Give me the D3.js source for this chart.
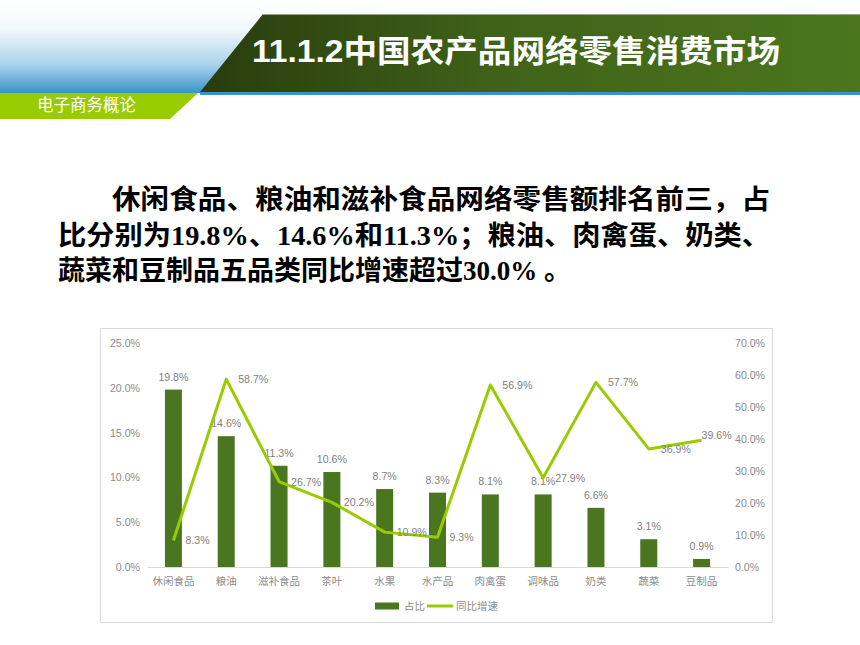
<!DOCTYPE html>
<html>
<head>
<meta charset="utf-8">
<script src="https://cdn.jsdelivr.net/npm/d3@7"></script>
<style>
  body { margin:0; background:#fff; }
  svg { display:block; }
  text { font-family: "Liberation Sans", "Noto Sans CJK SC", sans-serif; }
</style>
</head>
<body>
<script>
  // data
  const categories = ["休闲食品","粮油","滋补食品","茶叶","水果","水产品","肉禽蛋","调味品","奶类","蔬菜","豆制品"];
  const share  = [19.8,14.6,11.3,10.6,8.7,8.3,8.1,8.1,6.6,3.1,0.9];      // 占比 (left axis)
  const growth = [8.3,58.7,26.7,20.2,10.9,9.3,56.9,27.9,57.7,36.9,39.6]; // 同比增速 (right axis)
  const leftTicks  = [0,5,10,15,20,25];
  const rightTicks = [0,10,20,30,40,50,60,70];
  const seriesNames = ["占比","同比增速"];

  const titleText = "11.1.2中国农产品网络零售消费市场";
  const courseText = "电子商务概论";
  const bodyLines = [
    "休闲食品、粮油和滋补食品网络零售额排名前三，占",
    "比分别为19.8%、14.6%和11.3%；粮油、肉禽蛋、奶类、",
    "蔬菜和豆制品五品类同比增速超过30.0% 。"
  ];

  const W = 860, H = 645;
  const barColor = "#4a7620", lineColor = "#99cc00";
  const axisGray = "#8c8c8c", labelGray = "#7f7f7f";

  const svg = d3.select("body").append("svg")
      .attr("width", W).attr("height", H)
      .attr("viewBox", "0 0 " + W + " " + H);

  const defs = svg.append("defs");
  const sky = defs.append("linearGradient").attr("id","sky")
      .attr("x1",0).attr("y1",0).attr("x2",0).attr("y2",1);
  sky.append("stop").attr("offset","0").attr("stop-color","#ffffff");
  sky.append("stop").attr("offset","0.3").attr("stop-color","#f4f9fc");
  sky.append("stop").attr("offset","0.7").attr("stop-color","#a9d2eb");
  sky.append("stop").attr("offset","1").attr("stop-color","#3a93cb");

  const band = defs.append("linearGradient").attr("id","band")
      .attr("x1",0).attr("y1",0).attr("x2",1).attr("y2",0);
  band.append("stop").attr("offset","0").attr("stop-color","#283c0e");
  band.append("stop").attr("offset","0.45").attr("stop-color","#3f6218");
  band.append("stop").attr("offset","1").attr("stop-color","#4b761e");

  // ---- header ----
  svg.append("rect").attr("x",0).attr("y",0).attr("width",W).attr("height",93).attr("fill","url(#sky)");
  svg.append("rect").attr("x",200).attr("y",92).attr("width",W-200).attr("height",3).attr("fill","#3a93cb");
  svg.append("polygon")
      .attr("points","263,14 " + W + ",14 " + W + ",92 200,92")
      .attr("fill","url(#band)");
  svg.append("line").attr("x1",263).attr("x2",W).attr("y1",14.5).attr("y2",14.5)
      .attr("stroke","#9aa58c").attr("stroke-width",1);
  svg.append("text").attr("x",252).attr("y",51)
      .attr("dominant-baseline","central")
      .attr("fill","#fff").attr("font-size",31).attr("font-weight","bold")
      .attr("textLength",528).attr("lengthAdjust","spacingAndGlyphs")
      .text(titleText);

  svg.append("polygon").attr("points","0,93 198,93 170,119 0,119").attr("fill","#99cc00");
  svg.append("text").attr("x",37).attr("y",105)
      .attr("dominant-baseline","central")
      .attr("fill","#fff").attr("font-size",16.5)
      .text(courseText);

  // ---- body text ----
  const bodyX = [112,58,58], bodyLen = [658,712,null];
  bodyLines.forEach((t,i) => {
    const tx = svg.append("text")
        .attr("x", bodyX[i]).attr("y", 200 + i*35.5)
        .attr("dominant-baseline","central")
        .attr("font-size",27).attr("font-weight","bold").attr("fill","#000")
        .style("font-family","\"Liberation Serif\", \"Noto Sans CJK SC\", serif")
        .text(t);
    if (bodyLen[i]) tx.attr("textLength", bodyLen[i]).attr("lengthAdjust","spacingAndGlyphs");
  });

  // ---- chart box ----
  svg.append("rect").attr("x",100.5).attr("y",328.5).attr("width",672).attr("height",294)
      .attr("fill","#fff").attr("stroke","#d9d9d9");

  const plot = {left:147, right:728, top:343, bottom:567};
  const x = d3.scaleBand().domain(categories).range([plot.left, plot.right])
      .paddingInner(0.678).paddingOuter(0.339);
  const yL = d3.scaleLinear().domain([0,25]).range([plot.bottom, plot.top]);
  const yR = d3.scaleLinear().domain([0,70]).range([plot.bottom, plot.top]);
  const cx = c => x(c) + x.bandwidth()/2;
  const pct = d => d.toFixed(1) + "%";

  const gL = svg.append("g").attr("transform","translate(140,0)")
      .call(d3.axisLeft(yL).tickValues(leftTicks).tickFormat(pct).tickSize(0).tickPadding(0));
  const gR = svg.append("g").attr("transform","translate(735,0)")
      .call(d3.axisRight(yR).tickValues(rightTicks).tickFormat(pct).tickSize(0).tickPadding(0));
  [gL,gR].forEach(g => {
    g.select(".domain").remove();
    g.selectAll("text").attr("fill",axisGray).attr("font-size",10.6)
      .style("font-family","\"Liberation Sans\", sans-serif");
  });

  const gX = svg.append("g").attr("transform","translate(0," + plot.bottom + ")")
      .call(d3.axisBottom(x).tickSize(0).tickPadding(11));
  gX.select(".domain").attr("stroke","#d9d9d9");
  gX.selectAll("text").attr("fill",axisGray).attr("font-size",10.5)
      .style("font-family","\"Noto Sans CJK SC\", sans-serif");

  // bars
  svg.append("g").selectAll("rect").data(categories).join("rect")
      .attr("x", c => x(c))
      .attr("y", (c,i) => yL(share[i]))
      .attr("width", x.bandwidth())
      .attr("height", (c,i) => yL(0) - yL(share[i]))
      .attr("fill", barColor);

  svg.append("g").selectAll("text").data(categories).join("text")
      .attr("x", c => cx(c))
      .attr("y", (c,i) => yL(share[i]) - 13)
      .attr("text-anchor","middle").attr("dominant-baseline","central")
      .attr("fill",labelGray).attr("font-size",10.6)
      .text((c,i) => pct(share[i]));

  // growth line
  const line = d3.line().x(d => cx(d.c)).y(d => yR(d.v));
  const pts = categories.map((c,i) => ({c:c, v:growth[i]}));
  svg.append("path").datum(pts).attr("d", line)
      .attr("fill","none").attr("stroke",lineColor).attr("stroke-width",3)
      .attr("stroke-linejoin","round");

  const last = pts.length - 1;
  svg.append("g").selectAll("text").data(pts).join("text")
      .attr("x", (d,i) => i === last ? cx(d.c) : cx(d.c) + 12)
      .attr("y", (d,i) => i === last ? yR(d.v) - 5 : yR(d.v))
      .attr("dominant-baseline","central")
      .attr("fill",labelGray).attr("font-size",10.6)
      .text(d => pct(d.v));

  // legend
  const lg = svg.append("g").attr("transform","translate(375,606)");
  lg.append("rect").attr("x",0).attr("y",-3.5).attr("width",24).attr("height",7).attr("fill",barColor);
  lg.append("text").attr("x",29).attr("y",0).attr("dominant-baseline","central")
      .attr("fill",axisGray).attr("font-size",10.5).text(seriesNames[0]);
  lg.append("line").attr("x1",52).attr("x2",78).attr("y1",0).attr("y2",0)
      .attr("stroke",lineColor).attr("stroke-width",3);
  lg.append("text").attr("x",81).attr("y",0).attr("dominant-baseline","central")
      .attr("fill",axisGray).attr("font-size",10.5).text(seriesNames[1]);
</script>
</body>
</html>
